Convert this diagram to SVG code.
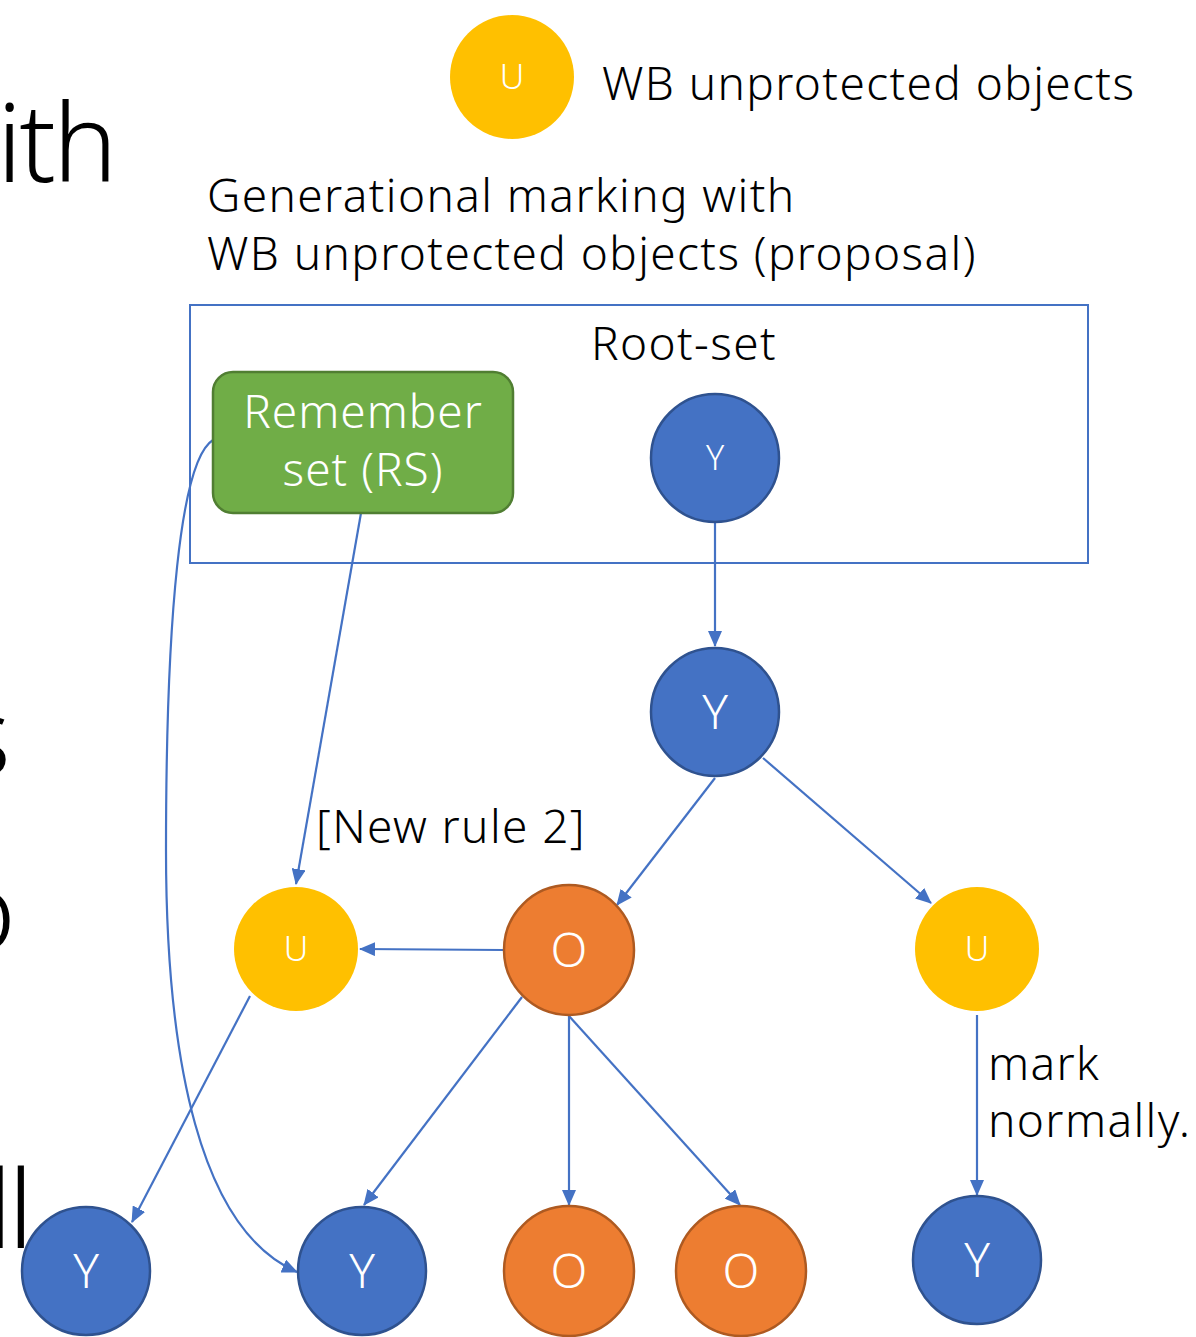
<svg xmlns="http://www.w3.org/2000/svg" width="1196" height="1337" viewBox="0 0 1196 1337">
<style>
text{font-family:"Noto Sans","Open Sans","Liberation Sans",sans-serif;font-weight:300}
.blk{fill:#000;font-size:46px;letter-spacing:1.4px}
.big{fill:#000;font-size:108px}
.wl{fill:#fff;text-anchor:middle}
.y{fill:#4472C4;stroke:#2F528F;stroke-width:2.5}
.o{fill:#ED7D31;stroke:#AE5A21;stroke-width:2.5}
.u{fill:#FFC000}
.c{fill:none;stroke:#4472C4;stroke-width:2.2}
</style>
<defs>
<marker id="a" viewBox="0 0 16 14" refX="15" refY="7" markerWidth="16" markerHeight="14" markerUnits="userSpaceOnUse" orient="auto">
<path d="M0,0 L16,7 L0,14 z" fill="#4472C4"/>
</marker>
</defs>

<g id="fragments">
<text class="big" x="-3" y="182" letter-spacing="-3">ith</text>
<text class="big" x="-40" y="775">s</text>
<text class="big" x="-48" y="950">o</text>
<text class="big" x="-13" y="1248" letter-spacing="-4">ll</text>
</g>

<g id="legend">
<circle class="u" cx="512" cy="77" r="62"/>
<text class="wl" x="512" y="89" font-size="34">U</text>
<text class="blk" x="602" y="100">WB unprotected objects</text>
</g>

<g id="title">
<text class="blk" x="207" y="212">Generational marking with</text>
<text class="blk" x="207" y="270">WB unprotected objects (proposal)</text>
</g>

<g id="rootset">
<rect x="190" y="305" width="898" height="258" fill="none" stroke="#4472C4" stroke-width="2"/>
<text class="blk" x="684" y="360" text-anchor="middle">Root-set</text>
</g>

<g id="connectors">
<line class="c" x1="715" y1="522" x2="715" y2="646" marker-end="url(#a)"/>
<line class="c" x1="715" y1="778" x2="617" y2="905" marker-end="url(#a)"/>
<line class="c" x1="763" y1="758" x2="931" y2="903" marker-end="url(#a)"/>
<line class="c" x1="503" y1="950" x2="360" y2="949" marker-end="url(#a)"/>
<line class="c" x1="361" y1="513" x2="296" y2="884" marker-end="url(#a)"/>
<line class="c" x1="522" y1="997" x2="364" y2="1205" marker-end="url(#a)"/>
<line class="c" x1="569" y1="1016" x2="569" y2="1205" marker-end="url(#a)"/>
<line class="c" x1="569" y1="1016" x2="740" y2="1205" marker-end="url(#a)"/>
<line class="c" x1="250" y1="996" x2="132" y2="1222" marker-end="url(#a)"/>
<line class="c" x1="977" y1="1015" x2="977" y2="1195" marker-end="url(#a)"/>
<path class="c" d="M213,440 C180,460 166,620 166,850 C166,1060 200,1230 297,1272" marker-end="url(#a)"/>
</g>

<g id="rs">
<rect x="213" y="372" width="300" height="141" rx="20" fill="#70AD47" stroke="#507E32" stroke-width="2.5"/>
<text class="wl" x="363" y="428" font-size="46" letter-spacing="1">Remember</text>
<text class="wl" x="363" y="486" font-size="46" letter-spacing="1">set (RS)</text>
</g>

<g id="y-root">
<circle class="y" cx="715" cy="458" r="64"/>
<text class="wl" x="715" y="470" font-size="34">Y</text>
</g>
<g id="y2">
<circle class="y" cx="715" cy="712" r="64"/>
<text class="wl" x="715" y="729" font-size="48">Y</text>
</g>
<g id="o-mid">
<circle class="o" cx="569" cy="950" r="65"/>
<text class="wl" x="569" y="967" font-size="48">O</text>
</g>
<g id="u-left">
<circle class="u" cx="296" cy="949" r="62"/>
<text class="wl" x="296" y="961" font-size="34">U</text>
</g>
<g id="u-right">
<circle class="u" cx="977" cy="949" r="62"/>
<text class="wl" x="977" y="961" font-size="34">U</text>
</g>
<g id="y-b1">
<circle class="y" cx="86" cy="1271" r="64"/>
<text class="wl" x="86" y="1288" font-size="48">Y</text>
</g>
<g id="y-b2">
<circle class="y" cx="362" cy="1271" r="64"/>
<text class="wl" x="362" y="1288" font-size="48">Y</text>
</g>
<g id="o-b1">
<circle class="o" cx="569" cy="1271" r="65"/>
<text class="wl" x="569" y="1288" font-size="48">O</text>
</g>
<g id="o-b2">
<circle class="o" cx="741" cy="1271" r="65"/>
<text class="wl" x="741" y="1288" font-size="48">O</text>
</g>
<g id="y-b3">
<circle class="y" cx="977" cy="1260" r="64"/>
<text class="wl" x="977" y="1277" font-size="48">Y</text>
</g>

<g id="labels">
<text class="blk" x="316" y="843">[New rule 2]</text>
<text class="blk" x="988" y="1080">mark</text>
<text class="blk" x="988" y="1137">normally.</text>
</g>
</svg>
